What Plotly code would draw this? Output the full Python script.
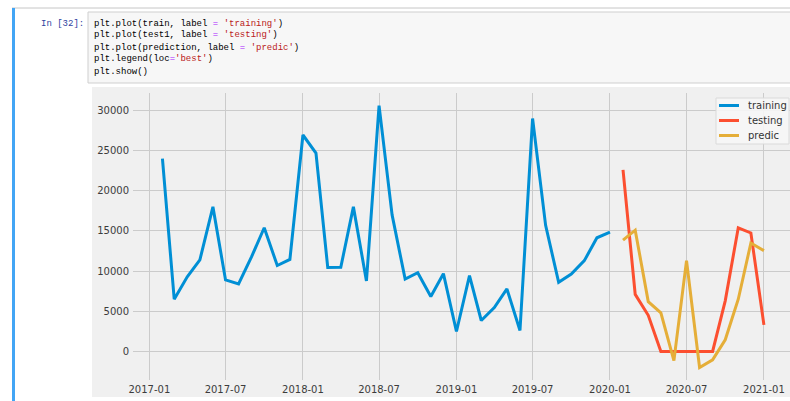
import pandas as pd
import plotly.graph_objects as go

# --- Daten ---
train_dates = pd.date_range("2017-02-01", "2020-01-01", freq="MS")
train = [24000, 6500, 9300, 11400, 18000, 8900, 8400, 11800, 15400, 10700, 11450,
         26950, 24700, 10450, 10470, 18000, 8770, 30600,
         17000, 9000, 9800, 6830, 9680, 2480, 9430, 3850, 5460, 7780, 2600,
         29000, 15700, 8600, 9640, 11300, 14150, 14850]

test_dates = pd.date_range("2020-02-01", "2021-01-01", freq="MS")
test1 = [22600, 7100, 4500, 0, 0, 0, 0, 0, 6300, 15400, 14750, 3300]
prediction = [13850, 15100, 6200, 4800, -1150, 11300, -2000, -1050, 1450, 6500, 13500, 12550]

y_ticks = [0, 5000, 10000, 15000, 20000, 25000, 30000]
series_names = ["training", "testing", "predic"]
series_colors = ["#008fd5", "#fc4f30", "#e5ae38"]
code_lines = [
    "plt.plot(train, label = 'training')",
    "plt.plot(test1, label = 'testing')",
    "plt.plot(prediction, label = 'predic')",
    "plt.legend(loc='best')",
    "plt.show()",
]

# --- Geometrie (Pixel im Fenster) ---
FIG_W, FIG_H = 790, 401
L, T, R, B = 133, 93, 790, 380
W, H = R - L, B - T


def px(x):
    return (x - L) / W


def py(y):
    return (B - y) / H


def color_code(line):
    # einfache Syntaxfarben wie im Notebook
    out = ""
    i = 0
    while i < len(line):
        c = line[i]
        if c == "'":
            j = line.index("'", i + 1)
            out += f"<span style='color:#BA2121'>{line[i:j + 1]}</span>"
            i = j + 1
            continue
        if c == "=":
            out += "<span style='color:#AA22FF'>=</span>"
        else:
            out += c
        i += 1
    return out


fig = go.Figure()
for xs, ys, name, col in [
    (train_dates, train, series_names[0], series_colors[0]),
    (test_dates, test1, series_names[1], series_colors[1]),
    (test_dates, prediction, series_names[2], series_colors[2]),
]:
    fig.add_trace(go.Scatter(x=xs, y=ys, mode="lines", name=name,
                             line=dict(color=col, width=3), showlegend=False))

shapes = [
    # Zellenrahmen oben
    dict(type="line", xref="paper", yref="paper", x0=px(12), x1=px(795), y0=py(8), y1=py(8),
         line=dict(color="#c6c6c6", width=1), layer="below"),
    # blauer Balken links
    dict(type="rect", xref="paper", yref="paper", x0=px(12), x1=px(15), y0=py(8), y1=py(405),
         fillcolor="#42A5F5", line=dict(width=0), layer="below"),
    # Code-Eingabe
    dict(type="rect", xref="paper", yref="paper", x0=px(88), x1=px(795), y0=py(12), y1=py(83),
         fillcolor="#f7f7f7", line=dict(color="#cfcfcf", width=1), layer="below"),
    # Hintergrund der Grafik
    dict(type="rect", xref="paper", yref="paper", x0=px(92), x1=px(795), y0=py(87), y1=py(397),
         fillcolor="#f0f0f0", line=dict(width=0), layer="below"),
    # Legendenrahmen
    dict(type="rect", xref="paper", yref="paper", x0=px(716), x1=px(789), y0=py(98), y1=py(144),
         fillcolor="rgba(246,246,246,0.9)", line=dict(color="#dadada", width=1), layer="above"),
]

annotations = [
    dict(text="In [32]:", xref="paper", yref="paper", x=px(39), y=py(23.5), xanchor="left",
         yanchor="middle", showarrow=False,
         font=dict(family="Liberation Mono", size=9, color="#303F9F"))
]
for k, line in enumerate(code_lines):
    annotations.append(dict(text=color_code(line), xref="paper", yref="paper", x=px(92),
                            y=py(23.5 + 12 * k), xanchor="left", yanchor="middle",
                            showarrow=False,
                            font=dict(family="Liberation Mono", size=9, color="#000000")))

# Legende von Hand (wie matplotlib loc='best')
for k, (name, col) in enumerate(zip(series_names, series_colors)):
    yy = 105.5 + 15 * k
    shapes.append(dict(type="line", xref="paper", yref="paper", x0=px(719), x1=px(739),
                       y0=py(yy), y1=py(yy), line=dict(color=col, width=3), layer="above"))
    annotations.append(dict(text=name, xref="paper", yref="paper", x=px(746), y=py(yy),
                            xanchor="left", yanchor="middle", showarrow=False,
                            font=dict(family="DejaVu Sans", size=10, color="#333333")))

fig.update_layout(
    width=FIG_W,
    height=FIG_H,
    margin=dict(l=L, r=FIG_W - R, t=T, b=FIG_H - B, pad=0),
    paper_bgcolor="white",
    plot_bgcolor="#f0f0f0",
    font=dict(family="DejaVu Sans", size=10, color="#3c3c3c"),
    shapes=shapes,
    annotations=annotations,
    xaxis=dict(
        range=["2016-11-23", "2021-03-04"],
        tick0="2017-01-01",
        dtick="M6",
        tickformat="%Y-%m",
        showgrid=True,
        gridcolor="#cbcbcb",
        gridwidth=1,
        zeroline=False,
        showline=False,
        ticks="",
        ticklabelstandoff=2,
    ),
    yaxis=dict(
        range=[-3560, 32180],
        tickvals=y_ticks,
        tickformat="d",
        showgrid=True,
        gridcolor="#cbcbcb",
        gridwidth=1,
        zeroline=False,
        showline=False,
        ticks="",
        ticklabelstandoff=3,
    ),
    showlegend=False,
)

# Seitenrand entfernen, damit die Grafik genau ins Fenster passt
fig.write_html(
    "out.html",
    config={"displayModeBar": False},
    post_script="document.body.style.margin='0';document.body.style.overflow='hidden';",
)
